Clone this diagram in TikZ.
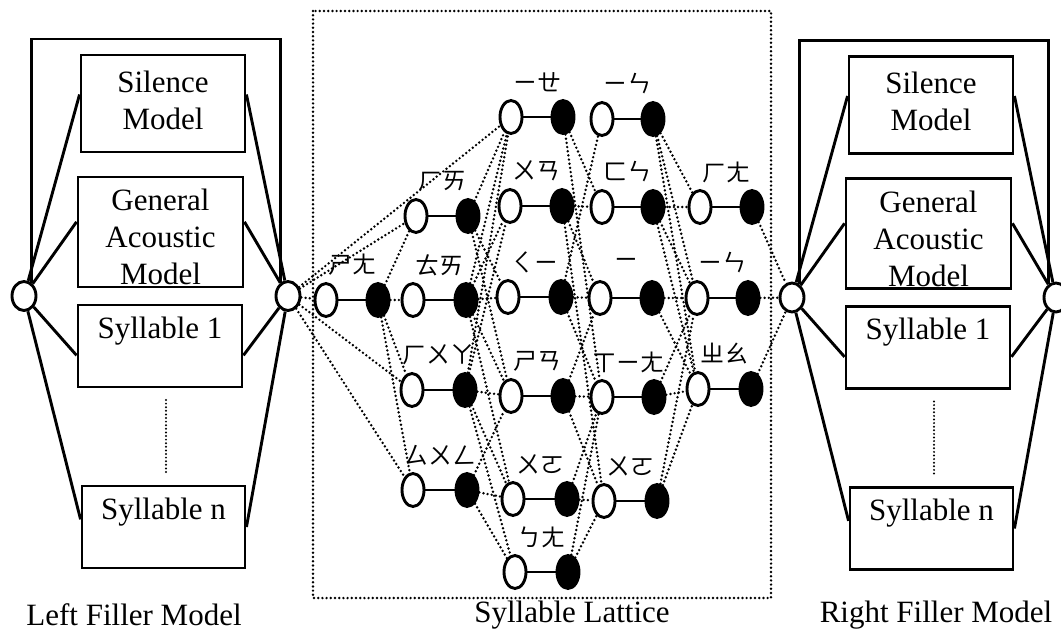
\documentclass[tikz,border=0pt]{standalone}
\usepackage{fontspec}
\setmainfont{Liberation Serif}
\newfontfamily\bpmf{Noto Sans CJK TC}
\usetikzlibrary{shapes.geometric,calc}
\tikzset{
  solidline/.style={line width=2.9pt},
  dotline/.style={line width=2.7pt, line cap=round, dash pattern=on 0pt off 4.2pt},
  finedots/.style={line width=2.2pt, line cap=round, dash pattern=on 0pt off 3.6pt},
  modelbox/.style={draw, line width=2.9pt, inner sep=0pt},
  boxtext/.style={font=\fontsize{31}{37}\selectfont, align=center, inner sep=0pt},
  caption/.style={font=\fontsize{31}{37}\selectfont, inner sep=0pt},
  hub/.style={ellipse, draw, line width=2.9pt, minimum width=24pt, minimum height=29pt, inner sep=0pt},
  opennode/.style={ellipse, draw, line width=2.9pt, minimum width=22pt, minimum height=33pt, inner sep=0pt, fill=white},
  fullnode/.style={ellipse, draw, line width=2.9pt, minimum width=22pt, minimum height=33pt, inner sep=0pt, fill=black},
  sylabel/.style={font=\bpmf\fontsize{24}{24}\selectfont, inner sep=0pt},
}
% filler model: #1 prefix, #2 x shift, #3 y shift
\newcommand{\fillermodel}[3]{%
  \begin{scope}[shift={(#2,#3)}]
    \node[hub] (#1-in) at (24,296) {};
    \node[hub] (#1-out) at (288,296) {};
    \coordinate (#1-top) at (0,39);
    \node[modelbox, minimum width=164pt, minimum height=97pt] (#1-sil) at (163,103.5) {};
    \node[boxtext] (#1-silt) at (163,100) {Silence\\Model};
    \node[modelbox, minimum width=165pt, minimum height=110pt] (#1-gam) at (160.5,232) {};
    \node[boxtext, anchor=north] (#1-gamt) at (160.5,189) {General\\Acoustic\\Model};
    \node[modelbox, minimum width=164pt, minimum height=82pt] (#1-s1) at (160,346) {};
    \node[boxtext] (#1-s1t) at (160,331) {Syllable 1};
    \node[modelbox, minimum width=163pt, minimum height=82pt] (#1-sn) at (163.5,527) {};
    \node[boxtext] (#1-snt) at (163.5,512) {Syllable n};
    \coordinate (#1-d1) at (166,400);
    \coordinate (#1-d2) at (166,473);
    \draw[finedots] (#1-d1) -- (#1-d2);
    \draw[solidline] (#1-in.60) -- (#1-in.60 |- #1-top) -- (#1-out.120 |- #1-top) -- (#1-out.120);
    \draw[solidline] (#1-in) -- ($(#1-sil.north west)!0.41!(#1-sil.south west)$);
    \draw[solidline] (#1-in) -- ($(#1-gam.north west)!0.41!(#1-gam.south west)$);
    \draw[solidline] (#1-in) -- ($(#1-s1.north west)!0.61!(#1-s1.south west)$);
    \draw[solidline] (#1-in) -- ($(#1-sn.north west)!0.41!(#1-sn.south west)$);
    \draw[solidline] (#1-out) -- ($(#1-sil.north east)!0.41!(#1-sil.south east)$);
    \draw[solidline] (#1-out) -- ($(#1-gam.north east)!0.41!(#1-gam.south east)$);
    \draw[solidline] (#1-out) -- ($(#1-s1.north east)!0.61!(#1-s1.south east)$);
    \draw[solidline] (#1-out) -- ($(#1-sn.north east)!0.5!(#1-sn.south east)$);
  \end{scope}}
% syllable: #1 name, #2 open x, #3 filled x, #4 y, #5 label
\newcommand{\syl}[5]{%
  \node[opennode] (#1-o) at (#2,#4) {};
  \node[fullnode] (#1-f) at (#3,#4) {};
  \draw[solidline] (#1-o) -- (#1-f);
  \node[sylabel] (#1-l) at ({(#2+#3)/2},#4-35) {#5};}
\begin{document}
\begin{tikzpicture}[x=1pt,y=-1pt]
\useasboundingbox (0,0) rectangle (1061,634);
\fillermodel{L}{0}{0}
\fillermodel{R}{768}{1.5}
\node[caption] (capL) at (134,615) {Left Filler Model};
\node[caption] (capM) at (572,615) {Syllable Lattice};
\node[caption] (capR) at (936,615) {Right Filler Model};
% lattice frame
\coordinate (fr1) at (313,11);
\coordinate (fr2) at (771,598);
\draw[dotline] (fr1) rectangle (fr2);
% syllables
\syl{shang}{326}{378}{300}{ㄕㄤ}
\syl{hai}{416}{468}{216}{ㄏㄞ}
\syl{tai}{413}{466}{300}{ㄊㄞ}
\syl{hua}{412}{465}{390}{ㄏㄨㄚ}
\syl{song}{413}{467}{490}{ㄙㄨㄥ}
\syl{ye}{511}{563}{117}{ㄧㄝ}
\syl{wan}{510}{562}{206}{ㄨㄢ}
\syl{qi}{508}{561}{297}{ㄑㄧ}
\syl{shan}{511}{563}{396}{ㄕㄢ}
\syl{woa}{513}{567}{499}{ㄨㄛ}
\syl{bang}{515}{568}{572}{ㄅㄤ}
\syl{yina}{602}{653}{119}{ㄧㄣ}
\syl{fen}{602}{653}{207}{ㄈㄣ}
\syl{yi}{600}{652}{298}{ㄧ}
\syl{xiang}{602}{654}{397}{ㄒㄧㄤ}
\syl{wob}{604}{657}{501}{ㄨㄛ}
\syl{hang}{700}{752}{207}{ㄏㄤ}
\syl{yinb}{697}{748}{298}{ㄧㄣ}
\syl{zhao}{698}{751}{389}{ㄓㄠ}
% lattice edges
\foreach \t in {ye,hai,shang,hua,song} \draw[dotline] (L-out) -- (\t-o);
\foreach \t in {hai,tai,hua,song} \draw[dotline] (shang-f) -- (\t-o);
\foreach \t in {ye,qi,shan} \draw[dotline] (hai-f) -- (\t-o);
\foreach \t in {ye,wan,qi,shan,woa} \draw[dotline] (tai-f) -- (\t-o);
\foreach \t in {ye,wan,shan,woa,bang} \draw[dotline] (hua-f) -- (\t-o);
\foreach \t in {woa,bang,shan} \draw[dotline] (song-f) -- (\t-o);
\foreach \t in {fen,xiang} \draw[dotline] (ye-f) -- (\t-o);
\foreach \t in {fen,yi,wob} \draw[dotline] (wan-f) -- (\t-o);
\foreach \t in {yina,yi,xiang} \draw[dotline] (qi-f) -- (\t-o);
\foreach \t in {xiang,yi,wob} \draw[dotline] (shan-f) -- (\t-o);
\foreach \t in {wob,xiang} \draw[dotline] (woa-f) -- (\t-o);
\foreach \t in {wob,xiang} \draw[dotline] (bang-f) -- (\t-o);
\foreach \t in {hang,yinb,zhao} \draw[dotline] (yina-f) -- (\t-o);
\foreach \t in {hang,yinb,zhao} \draw[dotline] (fen-f) -- (\t-o);
\foreach \t in {yinb,zhao} \draw[dotline] (yi-f) -- (\t-o);
\foreach \t in {zhao,yinb} \draw[dotline] (xiang-f) -- (\t-o);
\foreach \t in {zhao,yinb} \draw[dotline] (wob-f) -- (\t-o);
\foreach \s in {hang,yinb,zhao} \draw[dotline] (\s-f) -- (R-in);
\end{tikzpicture}
\end{document}
